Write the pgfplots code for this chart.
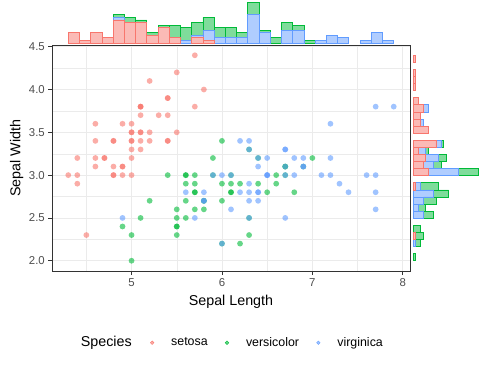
\documentclass[border=0pt]{standalone}
\usepackage{pgfplots}
\usepackage{pgfplotstable}
\pgfplotsset{compat=1.18}
\usepackage{fontspec}
\setmainfont{Liberation Sans}
\definecolor{cset}{HTML}{F8766D}
\definecolor{cver}{HTML}{00BA38}
\definecolor{cvir}{HTML}{619CFF}
\definecolor{gridc}{HTML}{EBEBEB}
\definecolor{tickc}{HTML}{4D4D4D}
\definecolor{framec}{HTML}{333333}

% marginal histogram of Sepal Length (bin centre, setosa, virginica, versicolor)
\pgfplotstableread{
x S Vi Ve
4.3621 4 0 0
4.4862 1 0 0
4.6103 4 0 0
4.7345 2 0 0
4.8586 9 1 1
4.9828 8 0 2
5.1069 8 0 1
5.2310 3 0 1
5.3552 6 0 1
5.4793 2 0 5
5.6034 0 1 5
5.7276 2 1 5
5.8517 1 4 5
5.9759 0 2 4
6.1000 0 2 4
6.2241 0 2 2
6.3483 0 11 5
6.4724 0 4 1
6.5966 0 0 2
6.7207 0 5 3
6.8448 0 5 2
6.9690 0 0 1
7.0931 0 1 0
7.2172 0 3 0
7.3414 0 2 0
7.4655 0 0 0
7.5897 0 1 0
7.7138 0 4 0
7.8379 0 1 0
}\topdata

% marginal histogram of Sepal Width
\pgfplotstableread{
y S Vi Ve
2.0414 0 0 1
2.1241 0 0 0
2.2069 0 1 2
2.2897 1 0 3
2.3724 0 0 3
2.4552 0 0 0
2.5379 0 4 4
2.6207 0 2 3
2.7034 0 4 5
2.7862 0 8 6
2.8690 1 2 7
2.9517 0 0 0
3.0345 6 12 8
3.1172 4 4 3
3.2000 5 5 3
3.2828 2 3 1
3.3655 9 2 1
3.4483 0 0 0
3.5310 6 0 0
3.6138 3 1 0
3.6966 3 0 0
3.7793 4 2 0
3.8621 2 0 0
3.9448 0 0 0
4.0276 1 0 0
4.1103 1 0 0
4.1931 1 0 0
4.2759 0 0 0
4.3586 1 0 0
}\rightdata

\pgfplotstableread{
x y
5.1 3.5
4.9 3.0
4.7 3.2
4.6 3.1
5.0 3.6
5.4 3.9
4.6 3.4
5.0 3.4
4.4 2.9
4.9 3.1
5.4 3.7
4.8 3.4
4.8 3.0
4.3 3.0
5.8 4.0
5.7 4.4
5.4 3.9
5.1 3.5
5.7 3.8
5.1 3.8
5.4 3.4
5.1 3.7
4.6 3.6
5.1 3.3
4.8 3.4
5.0 3.0
5.0 3.4
5.2 3.5
5.2 3.4
4.7 3.2
4.8 3.1
5.4 3.4
5.2 4.1
5.5 4.2
4.9 3.1
5.0 3.2
5.5 3.5
4.9 3.6
4.4 3.0
5.1 3.4
5.0 3.5
4.5 2.3
4.4 3.2
5.0 3.5
5.1 3.8
4.8 3.0
5.1 3.8
4.6 3.2
5.3 3.7
5.0 3.3
}\setosa

\pgfplotstableread{
x y
7.0 3.2
6.4 3.2
6.9 3.1
5.5 2.3
6.5 2.8
5.7 2.8
6.3 3.3
4.9 2.4
6.6 2.9
5.2 2.7
5.0 2.0
5.9 3.0
6.0 2.2
6.1 2.9
5.6 2.9
6.7 3.1
5.6 3.0
5.8 2.7
6.2 2.2
5.6 2.5
5.9 3.2
6.1 2.8
6.3 2.5
6.1 2.8
6.4 2.9
6.6 3.0
6.8 2.8
6.7 3.0
6.0 2.9
5.7 2.6
5.5 2.4
5.5 2.4
5.8 2.7
6.0 2.7
5.4 3.0
6.0 3.4
6.7 3.1
6.3 2.3
5.6 3.0
5.5 2.5
5.5 2.6
6.1 3.0
5.8 2.6
5.0 2.3
5.6 2.7
5.7 3.0
5.7 2.9
6.2 2.9
5.1 2.5
5.7 2.8
}\versicolor

\pgfplotstableread{
x y
6.3 3.3
5.8 2.7
7.1 3.0
6.3 2.9
6.5 3.0
7.6 3.0
4.9 2.5
7.3 2.9
6.7 2.5
7.2 3.6
6.5 3.2
6.4 2.7
6.8 3.0
5.7 2.5
5.8 2.8
6.4 3.2
6.5 3.0
7.7 3.8
7.7 2.6
6.0 2.2
6.9 3.2
5.6 2.8
7.7 2.8
6.3 2.7
6.7 3.3
7.2 3.2
6.2 2.8
6.1 3.0
6.4 2.8
7.2 3.0
7.4 2.8
7.9 3.8
6.4 2.8
6.3 2.8
6.1 2.6
7.7 3.0
6.3 3.4
6.4 3.1
6.0 3.0
6.9 3.1
6.7 3.1
6.9 3.1
5.8 2.7
6.8 3.2
6.7 3.3
6.7 3.0
6.3 2.5
6.5 3.0
6.2 3.4
5.9 3.0
}\virginica

\begin{document}
\begin{tikzpicture}
% main scatter panel
\begin{axis}[
  at={(52pt,99pt)}, anchor=south west,
  scale only axis, width=358pt, height=226pt,
  xmin=4.12, xmax=8.08, ymin=1.88, ymax=4.52,
  xtick={5,6,7,8}, ytick={2,2.5,3,3.5,4,4.5},
  minor xtick={4.5,5.5,6.5,7.5}, minor ytick={2.25,2.75,3.25,3.75,4.25},
  grid=both,
  major grid style={gridc, line width=0.75pt},
  minor grid style={gridc, line width=0.4pt},
  axis line style={framec, line width=0.8pt},
  tick style={framec, line width=0.75pt},
  major tick length=3.7pt, minor tick length=0pt,
  tick align=outside, xtick pos=left, ytick pos=left,
  /pgf/number format/assume math mode=true,
  ticklabel style={font=\fontsize{11.4}{13}\selectfont, text=tickc},
  yticklabel style={/pgf/number format/fixed, /pgf/number format/fixed zerofill, /pgf/number format/precision=1},
  xlabel={Sepal Length}, ylabel={Sepal Width},
  label style={font=\fontsize{14.3}{16}\selectfont},
  xlabel style={at={(axis description cs:0.5,-0.136)}, anchor=center},
  ylabel style={at={(axis description cs:-0.0986,0.5)}, anchor=center},
  legend style={at={(0.2737,-0.3173)}, anchor=west, draw=none, fill=none, inner sep=0pt,
    legend columns=-1, font=\fontsize{12.4}{14}\selectfont,
    /tikz/every odd column/.style={column sep=15pt},
    /tikz/every even column/.style={column sep=15.3pt}},
]
\addplot[only marks, mark=*, mark size=2.9pt, mark options={fill=cset, draw opacity=0, fill opacity=0.6},
  legend image code/.code={\fill[cset, fill opacity=0.6] (1.8pt,0pt) circle (1.8pt);}] table {\setosa};
\addlegendentry{setosa}
\addplot[only marks, mark=*, mark size=2.9pt, mark options={fill=cver, draw opacity=0, fill opacity=0.6},
  legend image code/.code={\fill[cver, fill opacity=0.6] (1.8pt,0pt) circle (1.8pt);}] table {\versicolor};
\addlegendentry{versicolor}
\addplot[only marks, mark=*, mark size=2.9pt, mark options={fill=cvir, draw opacity=0, fill opacity=0.6},
  legend image code/.code={\fill[cvir, fill opacity=0.6] (1.8pt,0pt) circle (1.8pt);}] table {\virginica};
\addlegendentry{virginica}
\end{axis}

% top marginal histogram
\begin{axis}[
  at={(52pt,325pt)}, anchor=south west,
  scale only axis, width=358pt, height=45pt,
  xmin=4.12, xmax=8.08, ymin=-0.8, ymax=16.8,
  hide axis, ybar stacked, bar width=0.124138, clip=false,
]
\addplot[fill=cset, fill opacity=0.5, draw=cset, line width=0.75pt] table[x=x, y=S] {\topdata};
\addplot[fill=cvir, fill opacity=0.5, draw=cvir, line width=0.75pt] table[x=x, y=Vi] {\topdata};
\addplot[fill=cver, fill opacity=0.5, draw=cver, line width=0.75pt] table[x=x, y=Ve] {\topdata};
\end{axis}

% right marginal histogram
\begin{axis}[
  at={(410pt,99pt)}, anchor=south west,
  scale only axis, width=72pt, height=226pt,
  ymin=1.88, ymax=4.52, xmin=-1.3, xmax=27.3,
  hide axis, xbar stacked, bar width=0.082759, clip=false,
]
\addplot[fill=cset, fill opacity=0.5, draw=cset, line width=0.75pt] table[x=S, y=y] {\rightdata};
\addplot[fill=cvir, fill opacity=0.5, draw=cvir, line width=0.75pt] table[x=Vi, y=y] {\rightdata};
\addplot[fill=cver, fill opacity=0.5, draw=cver, line width=0.75pt] table[x=Ve, y=y] {\rightdata};
\end{axis}

\node[anchor=west, inner sep=0pt, font=\fontsize{14.3}{16}\selectfont] at (80.7pt,27.3pt) {Species};
\pgfresetboundingbox
\path (0pt,0pt) rectangle (482pt,370pt);
\end{tikzpicture}
\end{document}
